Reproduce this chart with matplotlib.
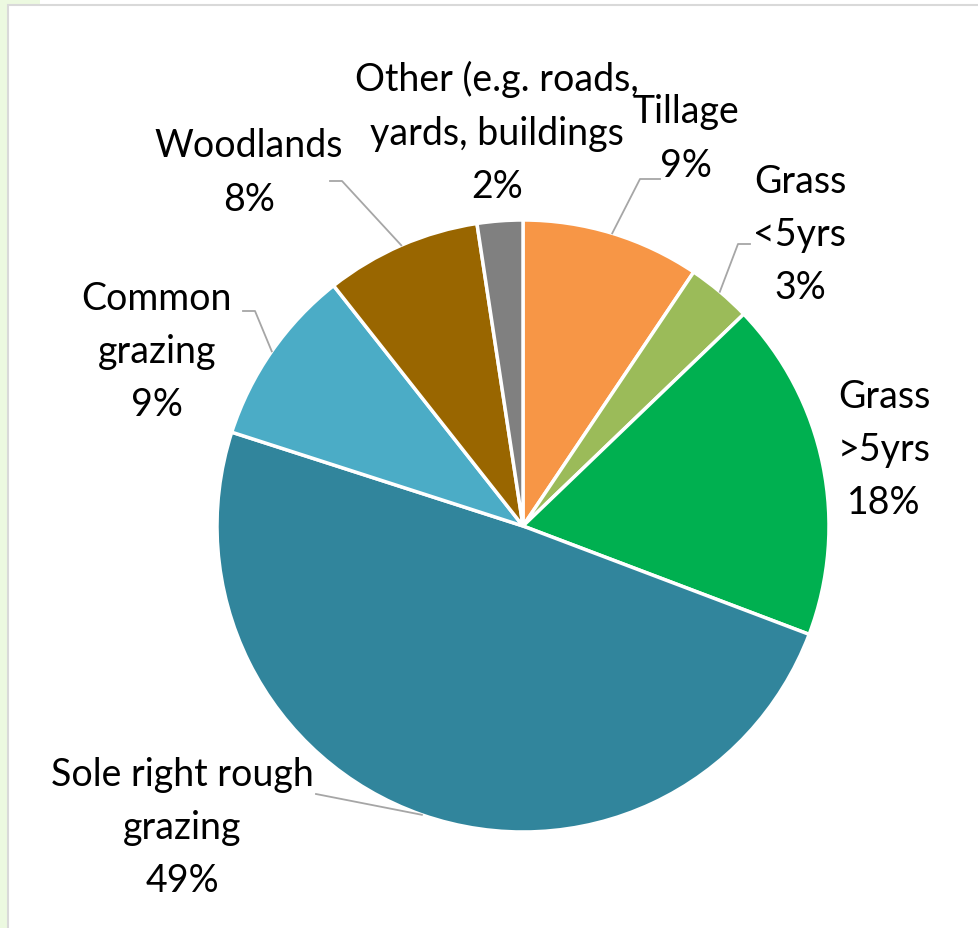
import numpy as np
import matplotlib.pyplot as plt
from matplotlib.patches import Rectangle

plt.rcParams['font.family'] = ['Lato', 'DejaVu Sans']

# land use shares, clockwise from 12 o'clock
categories = ['Tillage', 'Grass\n<5yrs', 'Grass\n>5yrs', 'Sole right rough\ngrazing',
              'Common\ngrazing', 'Woodlands', 'Other (e.g. roads,\nyards, buildings']
shares = [9.4, 3.4, 17.9, 49.1, 9.4, 8.2, 2.4]
colors = ['#F79646', '#9BBB59', '#00B050', '#31859C', '#4BACC6', '#996600', '#808080']

W, H = 979, 929
cx, cy, R = 523, 527, 306

# label centres and leader elbows, in pixels from the top-left corner
label_pos = [(686, 139), (800, 235), (884, 450), (182, 828), (157, 352), (249, 173), (497, 133)]
leaders = [[(640, 180), (660, 180)],
           [(738, 245), (750, 245)],
           None,
           [(316, 795)],
           [(255, 312), (243, 312)],
           [(342, 182), (330, 182)],
           None]

fig = plt.figure(figsize=(W / 100, H / 100), dpi=100)
fig.patch.set_facecolor('white')
ax = fig.add_axes([0, 0, 1, 1])


def py(y):
    return H - y


# slide background peeking out on the left and the chart frame
ax.add_patch(Rectangle((0, 0), 8, H, facecolor='#ecf9e0', edgecolor='none'))
ax.add_patch(Rectangle((0, py(6)), 40, 6, facecolor='#ecf9e0', edgecolor='none'))
ax.add_patch(Rectangle((8, -50), W + 50, py(6) + 50, facecolor='white',
                       edgecolor='#d9d9d9', linewidth=1.5))

wedges, _ = ax.pie(shares, colors=colors, startangle=90, counterclock=False,
                   center=(cx, py(cy)), radius=R, frame=True,
                   wedgeprops=dict(edgecolor='white', linewidth=2.5))
ax.set_xlim(0, W)
ax.set_ylim(0, H)
ax.axis('off')

total = sum(shares)
for w, name, val, (lx, ly), pts in zip(wedges, categories, shares, label_pos, leaders):
    ax.text(lx, py(ly), f'{name}\n{val / total * 100:.0f}%', ha='center', va='center',
            multialignment='center', fontsize=27, linespacing=1.6, color='black')
    if pts:
        mid = np.deg2rad((w.theta1 + w.theta2) / 2)
        sx, sy = cx + R * np.cos(mid), py(cy) + R * np.sin(mid)
        xs = [sx] + [p[0] for p in pts]
        ys = [sy] + [py(p[1]) for p in pts]
        ax.plot(xs, ys, color='#a6a6a6', linewidth=1.3)

fig.savefig('out.png', dpi=100)
